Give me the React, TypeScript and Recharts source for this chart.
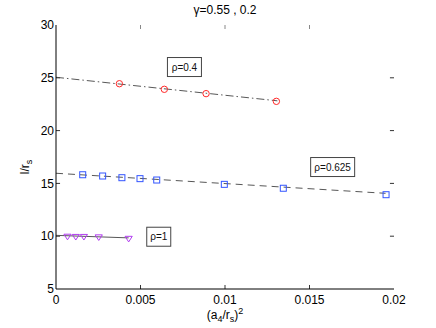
import React from 'react';
import {
  ComposedChart,
  XAxis,
  YAxis,
  Line,
  Scatter,
  ReferenceLine,
  ReferenceDot,
  Customized,
} from 'recharts';

// ---- data ----
const xTicks = [0, 0.005, 0.01, 0.015, 0.02];
const yTicks = [5, 10, 15, 20, 25, 30];

const rho04X = [0.00375, 0.00641, 0.00888, 0.01304];
const rho04Y = [24.44, 23.91, 23.5, 22.77];
const rho04FitX = [0, 0.0131];
const rho04FitY = [25.05, 22.82];

const rho0625X = [0.00158, 0.00276, 0.0039, 0.00497, 0.00596, 0.00996, 0.01345, 0.01953];
const rho0625Y = [15.82, 15.7, 15.54, 15.45, 15.32, 14.91, 14.54, 13.93];
const rho0625FitX = [0, 0.0195];
const rho0625FitY = [15.96, 14.06];

const rho1X = [0.00068, 0.00117, 0.00165, 0.00253, 0.0043];
const rho1Y = [9.98, 9.96, 9.96, 9.92, 9.78];
const rho1FitX = [0, 0.0043];
const rho1FitY = [10.08, 9.84];

const labelTexts = ['ρ=0.4', 'ρ=0.625', 'ρ=1'];
const labelX = [0.0076, 0.01637, 0.00608];
const labelY = [26.02, 16.55, 9.95];

const zip = (xs: number[], ys: number[]) => xs.map((x, i) => ({ x, y: ys[i] }));

const FONT = '"Liberation Sans", Arial, Helvetica, sans-serif';
const X_DOMAIN: [number, number] = [0, 0.02];
const Y_DOMAIN: [number, number] = [5, 30];
// inward tick length in data units (~4px)
const TICK_DX = 0.00024;
const TICK_DY = 0.38;

const Circle = (p: any) => (
  <circle cx={p.cx} cy={p.cy} r={3.2} fill="none" stroke="#ff2a2a" strokeWidth={1} />
);
const Square = (p: any) => (
  <rect x={p.cx - 3} y={p.cy - 3} width={6} height={6} fill="none" stroke="#3355ff" strokeWidth={1} />
);
const Tri = (p: any) => (
  <path
    d={`M${p.cx - 3.6},${p.cy - 2.2} L${p.cx + 3.6},${p.cy - 2.2} L${p.cx},${p.cy + 3.4} Z`}
    fill="none"
    stroke="#b13cf0"
    strokeWidth={1}
  />
);

const LabelBox = (text: string) => (p: any) => {
  const w = 9 + text.length * 5;
  const h = 19;
  return (
    <g>
      <rect x={p.cx - w / 2} y={p.cy - h / 2} width={w} height={h} fill="#fff" stroke="#444" strokeWidth={1} />
      <text x={p.cx} y={p.cy + 3.6} textAnchor="middle" fontSize={10} fontFamily={FONT} fill="#111">
        {text}
      </text>
    </g>
  );
};

const Texts = () => (
  <g fontFamily={FONT} fill="#000">
    <text x={225} y={14} textAnchor="middle" fontSize={12}>
      γ=0.55 , 0.2
    </text>
    <text x={225} y={319} textAnchor="middle" fontSize={12}>
      <tspan>(a</tspan>
      <tspan dy={3} fontSize={9}>4</tspan>
      <tspan dy={-3}>/r</tspan>
      <tspan dy={3} fontSize={9}>s</tspan>
      <tspan dy={-3}>)</tspan>
      <tspan dy={-5} fontSize={9}>2</tspan>
    </text>
    <text transform="translate(29,167) rotate(-90)" textAnchor="middle" fontSize={12}>
      <tspan>l/r</tspan>
      <tspan dy={3} fontSize={9}>s</tspan>
    </text>
  </g>
);

export default function App() {
  const innerX = xTicks.slice(1, -1);
  const innerY = yTicks.slice(1, -1);
  return (
    <div style={{ position: 'absolute', left: 0, top: 0, width: 436, height: 328, background: '#fff', fontFamily: FONT }}>
      <ComposedChart width={436} height={328} margin={{ top: 25, right: 42, bottom: 0, left: 0 }}>
        <XAxis
          dataKey="x"
          type="number"
          domain={X_DOMAIN}
          ticks={xTicks}
          interval={0}
          tickLine={false}
          tickSize={0}
          tickMargin={6}
          height={39}
          axisLine={{ stroke: '#000' }}
          tick={{ fontSize: 12, fill: '#000', fontFamily: FONT }}
          allowDataOverflow
        />
        <XAxis
          xAxisId="top"
          orientation="top"
          dataKey="x"
          type="number"
          domain={X_DOMAIN}
          tick={false}
          tickLine={false}
          height={0}
          axisLine={{ stroke: '#000' }}
        />
        <YAxis
          type="number"
          domain={Y_DOMAIN}
          ticks={yTicks}
          interval={0}
          tickLine={false}
          tickSize={0}
          tickMargin={2}
          width={56}
          axisLine={{ stroke: '#000' }}
          tick={{ fontSize: 12, fill: '#000', fontFamily: FONT }}
          allowDataOverflow
        />
        <YAxis
          yAxisId="right"
          orientation="right"
          type="number"
          domain={Y_DOMAIN}
          tick={false}
          tickLine={false}
          width={0}
          axisLine={{ stroke: '#000' }}
        />

        {innerX.map((t) => (
          <ReferenceLine key={'xb' + t} segment={[{ x: t, y: Y_DOMAIN[0] }, { x: t, y: Y_DOMAIN[0] + TICK_DY }]} stroke="#333" />
        ))}
        {innerX.map((t) => (
          <ReferenceLine key={'xt' + t} segment={[{ x: t, y: Y_DOMAIN[1] }, { x: t, y: Y_DOMAIN[1] - TICK_DY }]} stroke="#888" />
        ))}
        {innerY.map((t) => (
          <ReferenceLine key={'yl' + t} segment={[{ x: X_DOMAIN[0], y: t }, { x: X_DOMAIN[0] + TICK_DX, y: t }]} stroke="#333" />
        ))}
        {innerY.map((t) => (
          <ReferenceLine key={'yr' + t} segment={[{ x: X_DOMAIN[1], y: t }, { x: X_DOMAIN[1] - TICK_DX, y: t }]} stroke="#333" />
        ))}

        <Line data={zip(rho04FitX, rho04FitY)} dataKey="y" type="linear" stroke="#444" strokeWidth={0.9} strokeDasharray="8 3 1.5 3" dot={false} activeDot={false} isAnimationActive={false} />
        <Line data={zip(rho0625FitX, rho0625FitY)} dataKey="y" type="linear" stroke="#444" strokeWidth={0.9} strokeDasharray="7 5" dot={false} activeDot={false} isAnimationActive={false} />
        <Line data={zip(rho1FitX, rho1FitY)} dataKey="y" type="linear" stroke="#444" strokeWidth={0.9} dot={false} activeDot={false} isAnimationActive={false} />

        <Scatter data={zip(rho04X, rho04Y)} dataKey="y" shape={Circle} isAnimationActive={false} />
        <Scatter data={zip(rho0625X, rho0625Y)} dataKey="y" shape={Square} isAnimationActive={false} />
        <Scatter data={zip(rho1X, rho1Y)} dataKey="y" shape={Tri} isAnimationActive={false} />

        {labelTexts.map((t, i) => (
          <ReferenceDot key={t} x={labelX[i]} y={labelY[i]} r={0} shape={LabelBox(t)} />
        ))}

        <Customized component={<Texts />} />
      </ComposedChart>
    </div>
  );
}
